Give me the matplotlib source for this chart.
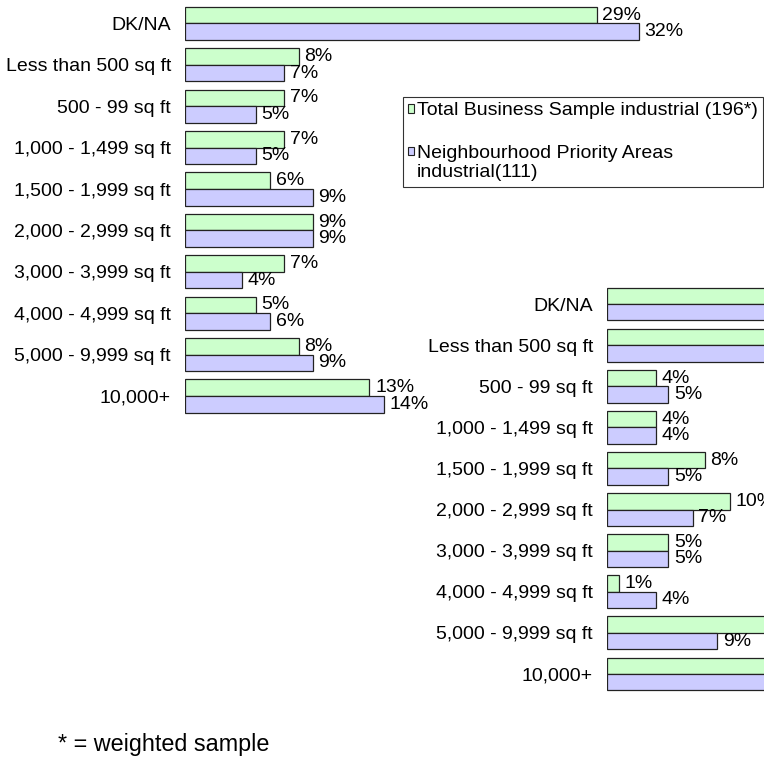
import matplotlib
matplotlib.use('Agg')
import matplotlib.pyplot as plt
from matplotlib.patches import Patch, Rectangle
from matplotlib.legend_handler import HandlerPatch

plt.rcParams['font.family'] = ['Liberation Sans', 'DejaVu Sans']

categorias = ['DK/NA', 'Less than 500 sq ft', '500 - 99 sq ft', '1,000 - 1,499 sq ft',
              '1,500 - 1,999 sq ft', '2,000 - 2,999 sq ft', '3,000 - 3,999 sq ft',
              '4,000 - 4,999 sq ft', '5,000 - 9,999 sq ft', '10,000+']

# grafico 1 (industrial)
total_1 = [29, 8, 7, 7, 6, 9, 7, 5, 8, 13]
priority_1 = [32, 7, 5, 5, 9, 9, 4, 6, 9, 14]

# grafico 2 (sobreposto, cortado na borda direita)
total_2 = [20, 15, 4, 4, 8, 10, 5, 1, 14, 19]
priority_2 = [22, 16, 5, 4, 5, 7, 5, 4, 9, 23]

nome_total = 'Total Business Sample industrial (196*)'
nome_priority = 'Neighbourhood Priority Areas\nindustrial(111)'

cor_total = '#CCFFCC'
cor_priority = '#CCCCFF'
borda = '#222222'
fonte = 14

W, H = 764, 761
fig = plt.figure(figsize=(W / 100, H / 100), dpi=100)


def barras(rect, total, priority, xmax):
    ax = fig.add_axes(rect)
    ax.patch.set_alpha(0)
    y = range(len(categorias))
    b1 = ax.barh([i - 0.2 for i in y], total, height=0.4, color=cor_total,
                 edgecolor=borda, linewidth=0.9)
    b2 = ax.barh([i + 0.2 for i in y], priority, height=0.4, color=cor_priority,
                 edgecolor=borda, linewidth=0.9)
    for barra, v in zip(b1, total):
        ax.annotate(f'{v}%', (v, barra.get_y() + barra.get_height() / 2),
                    xytext=(4, 0), textcoords='offset points', va='center',
                    fontsize=fonte, annotation_clip=False)
    for barra, v in zip(b2, priority):
        ax.annotate(f'{v}%', (v, barra.get_y() + barra.get_height() / 2),
                    xytext=(4, 0), textcoords='offset points', va='center',
                    fontsize=fonte, annotation_clip=False)
    ax.set_yticks(list(y))
    ax.set_yticklabels(categorias, fontsize=fonte)
    ax.set_ylim(len(categorias) - 0.5, -0.5)
    ax.set_xlim(0, xmax)
    ax.set_xticks([])
    ax.tick_params(axis='y', length=0, pad=10)
    for s in ax.spines.values():
        s.set_visible(False)
    return ax


# posicoes em pixels convertidas para fracao da figura
def caixa(x0, y0, x1, y1):
    return [x0 / W, 1 - y1 / H, (x1 - x0) / W, (y1 - y0) / H]


barras(caixa(185, 2.8, 185 + 35 * 14.19, 416.7), total_1, priority_1, 35)
barras(caixa(607, 283.5, 607 + 20 * 12.25, 694.5), total_2, priority_2, 20)


# quadradinho da legenda alinhado com a primeira linha do texto
def quadrado_topo(legend, orig_handle, xdescent, ydescent, width, height, fontsize):
    return Rectangle((-xdescent, -ydescent + fontsize * 0.6), width, height)


handles = [Patch(facecolor=cor_total, edgecolor=borda, linewidth=0.8),
           Patch(facecolor=cor_priority, edgecolor=borda, linewidth=0.8)]
leg = fig.legend(handles, [nome_total, nome_priority], loc='upper left',
                 bbox_to_anchor=(403 / W, 1 - 97 / H), fontsize=fonte,
                 frameon=True, fancybox=False, edgecolor='black',
                 handlelength=0.3, handleheight=0.3, handletextpad=0.12,
                 borderpad=0.28, labelspacing=1.3, borderaxespad=0,
                 handler_map={handles[1]: HandlerPatch(patch_func=quadrado_topo)})
leg.get_frame().set_linewidth(0.8)

fig.text(58 / W, 1 - 745 / H, '* = weighted sample', fontsize=16.8, va='center')

fig.savefig('out.png', dpi=100, facecolor='white')
